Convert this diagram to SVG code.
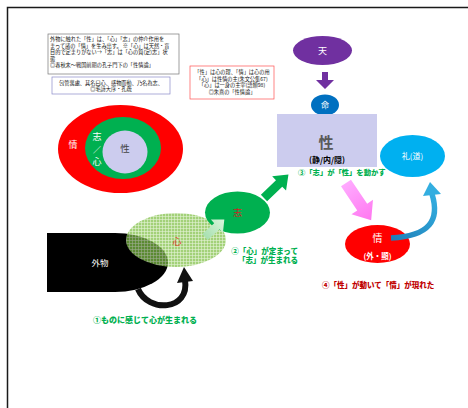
<svg xmlns="http://www.w3.org/2000/svg" width="468" height="408" viewBox="0 0 468 408">
<style>
text{font-family:"Noto Sans CJK JP","Noto Sans",sans-serif;}
.note{font-size:5.2px;fill:#111;}
.lbl{font-weight:900;fill:#00b050;}
.wt{fill:#fff;text-anchor:middle;}
.ctr{text-anchor:middle;}
</style>
<defs>
<pattern id="grid" width="3" height="3" patternUnits="userSpaceOnUse">
<rect width="3" height="3" fill="#7fbf45"/>
<path d="M0,0.5H3M0.5,0V3" stroke="#d8efc4" stroke-width="0.6"/>
</pattern>
<linearGradient id="pinkG" x1="0" y1="0" x2="1" y2="0">
<stop offset="0" stop-color="#ffaaff"/><stop offset="1" stop-color="#ff77f0"/>
</linearGradient>
<linearGradient id="lgG" x1="0" y1="0" x2="1" y2="0">
<stop offset="0" stop-color="#a8e0b0"/><stop offset="1" stop-color="#d9f5dc"/>
</linearGradient>
<linearGradient id="blueG" x1="0" y1="1" x2="1" y2="0">
<stop offset="0" stop-color="#1f7fb8"/><stop offset="1" stop-color="#33aee0"/>
</linearGradient>
</defs>
<rect width="468" height="408" fill="#fff"/>
<rect x="7.5" y="7.5" width="470" height="410" fill="none" stroke="#1a1a1a" stroke-width="1.5"/>

<g id="note1">
<rect x="48" y="34" width="131" height="40" fill="#fff" stroke="#777" stroke-width="0.7"/>
<text class="note" x="50" y="41">外物に触れた「性」は、「心」「志」の仲介作用を</text>
<text class="note" x="50" y="47.5">まって諸の「情」を生み出す。 ※「心」は天然・盲</text>
<text class="note" x="50" y="54">目的で定まりがない→「志」は「心の質(定)志」状</text>
<text class="note" x="50" y="60.5">態</text>
<text class="note" x="50" y="67">◎春秋末～戦国前期の孔子門下の「性情論」</text>
</g>
<g id="note2">
<rect x="52" y="77" width="118" height="17" fill="#fff" stroke="#8a8ac8" stroke-width="0.7"/>
<text class="note ctr" x="111" y="84.5">包管萬慮、其名曰心、感物而動、乃名為志、</text>
<text class="note ctr" x="111" y="91">◎毛詩大序・孔疏</text>
</g>
<g id="note3">
<rect x="190" y="66" width="84" height="33" fill="#fff" stroke="#ff5050" stroke-width="0.7"/>
<text class="note ctr" x="232" y="74">「性」は心の理、「情」は心の用</text>
<text class="note ctr" x="232" y="80.5">「心」は性情の主(朱文公集67)</text>
<text class="note ctr" x="232" y="87">「心」は一身の主宰(語類98)</text>
<text class="note ctr" x="232" y="93.5">◎朱熹の「性情論」</text>
</g>

<g id="concentric">
<ellipse cx="120.5" cy="149" rx="62.5" ry="44" fill="#ff0000"/>
<ellipse cx="123" cy="148" rx="38" ry="31" fill="#00b050"/>
<ellipse cx="125" cy="152" rx="22.5" ry="21.5" fill="#ccccee"/>
<text class="wt" x="73" y="147.5" font-size="9">情</text>
<text class="wt" x="97" y="140" font-size="9">志</text>
<text class="wt" x="97" y="153" font-size="8">／</text>
<text class="wt" x="97" y="165" font-size="9">心</text>
<text class="ctr" x="125" y="151.5" font-size="9.5" fill="#444">性</text>
</g>

<g id="ten">
<ellipse cx="322.5" cy="50.5" rx="29.5" ry="14.5" fill="#7030a0"/>
<text class="wt" x="322.5" y="54" font-size="9">天</text>
</g>
<g id="mei">
<ellipse cx="325" cy="105" rx="14" ry="10.5" fill="#0070c0"/>
<text class="wt" x="325" y="108" font-size="8">命</text>
</g>
<g id="sei">
<rect x="277" y="114" width="100" height="53" fill="#ccccee"/>
<text class="ctr" x="326" y="148" font-size="15" font-weight="bold" fill="#595959">性</text>
<text class="ctr" x="327" y="162.5" font-size="8" font-weight="bold" fill="#000">(静/内/隠)</text>
</g>

<g id="gaibutsu">
<path d="M47,233 H115 A53,29.5 0 0 1 115,292 H47 Z" fill="#000"/>
<text class="wt" x="100" y="266" font-size="8.5">外物</text>
</g>
<g id="kokoro">
<ellipse cx="176" cy="240" rx="50" ry="27" fill="url(#grid)" opacity="0.72"/>
<text class="ctr" x="177" y="245" font-size="9" fill="#e03020">心</text>
</g>
<g id="kokorozashi">
<ellipse cx="237.5" cy="212.5" rx="32.5" ry="21" fill="#00b050"/>
<text class="ctr" x="237.5" y="216" font-size="9" fill="#d02020">志</text>
</g>
<g id="jou">
<ellipse cx="377.5" cy="244" rx="32.5" ry="19" fill="#ff0000"/>
<text class="wt" x="377.5" y="242" font-size="10">情</text>
<text class="wt" x="377.5" y="258.5" font-size="7.5" font-weight="bold">(外・顯)</text>
</g>
<g id="rei">
<ellipse cx="412.5" cy="156" rx="32.5" ry="21" fill="#00b0f0"/>
<text class="wt" x="412.5" y="159" font-size="8">礼(道)</text>
</g>

<g id="connectors">
<polygon points="322,72 328,72 328,80 334,80 325,89 316,80 322,80" fill="#7030a0"/>
<polygon points="0,-4 16,-4 16,-9 26,0 16,9 16,4 0,4" fill="url(#lgG)" transform="translate(205,237) rotate(-42)"/>
<polygon points="0,-4.5 21,-4.5 21,-10 34,0 21,10 21,4.5 0,4.5" fill="#00b050" transform="translate(264,198) rotate(-44)"/>
<polygon points="0,-6 29,-6 29,-13 45,0 29,13 29,6 0,6" fill="url(#pinkG)" transform="translate(346,183) rotate(56)"/>
<path d="M138,289 C148,313 190,311 185,280" fill="none" stroke="#111" stroke-width="6"/>
<polygon points="177,283 193,281 184,267" fill="#111"/>
<path d="M391,238 C430,236 440,220 432,194" fill="none" stroke="url(#blueG)" stroke-width="5.5"/>
<polygon points="423,196 441,194 430,182" fill="#33aee0"/>
</g>

<g id="labels">
<text class="lbl" x="93" y="323" font-size="8">①ものに感じて心が生まれる</text>
<text class="lbl" x="298" y="253.5" font-size="7.5" text-anchor="end">②「心」が定まって</text>
<text class="lbl" x="298" y="263" font-size="7.5" text-anchor="end">「志」が生まれる</text>
<text class="lbl" x="298" y="175" font-size="7.3">③「志」が「性」を動かす</text>
<text x="322" y="288" font-size="7.5" font-weight="900" fill="#c00000">④「性」が動いて「情」が現れた</text>
</g>
</svg>
